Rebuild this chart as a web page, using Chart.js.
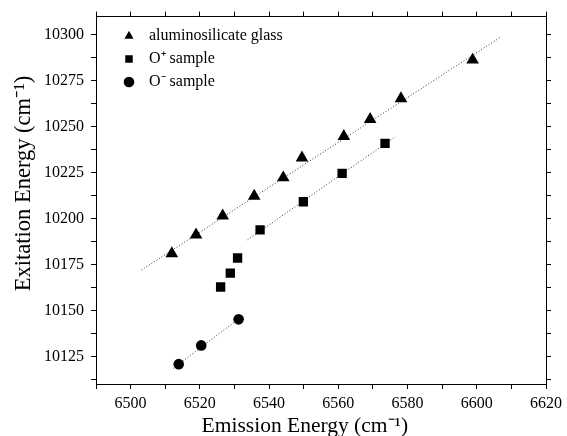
<!DOCTYPE html>
<html>
<head>
<meta charset="utf-8">
<script src="https://cdn.jsdelivr.net/npm/chart.js@4"></script>
<style>body{margin:0;background:#fff}</style>
</head>
<body>
<canvas id="energy-chart" width="567" height="436"></canvas>
<script>
// Andmed: emissioon (x) ja ergastus (y), cm-1
glassX = [6511.9, 6518.9, 6526.6, 6535.7, 6544.1, 6549.5, 6561.6, 6569.2, 6578.1, 6598.8]
glassY = [10181.0, 10191.2, 10201.5, 10212.3, 10222.3, 10233.1, 10244.8, 10254.1, 10265.4, 10286.4]
plusX = [6526.0, 6528.8, 6530.9, 6537.4, 6549.9, 6561.1, 6573.5]
plusY = [10162.8, 10170.4, 10178.6, 10193.9, 10209.2, 10224.7, 10241.0]
minusX = [6513.9, 6520.4, 6531.2]
minusY = [10120.8, 10131.0, 10145.2]

// Sobitussirgete otspunktid
glassFitX = [6503.1, 6607.1]
glassFitY = [10172.0, 10299.1]
plusFitX = [6533.8, 6576.5]
plusFitY = [10188.5, 10244.6]
minusFitX = [6512.3, 6532.1]
minusFitY = [10118.5, 10146.7]

seriesLabels = ['aluminosilicate glass', 'O\u207A sample', 'O\u207B sample']

xTicks = [6490, 6500, 6510, 6520, 6530, 6540, 6550, 6560, 6570, 6580, 6590, 6600, 6610, 6620]
yTicks = [10112.5, 10125, 10137.5, 10150, 10162.5, 10175, 10187.5, 10200, 10212.5, 10225,
          10237.5, 10250, 10262.5, 10275, 10287.5, 10300]

xTitle = 'Emission Energy (cm\u207B\u00B9)\u2002\u2002\u2002'
yTitle = '\u2002\u2002\u2002Exitation Energy (cm\u207B\u00B9)'

// Paneb x ja y massiivid punktideks kokku
toPoints = function(xs, ys){
    return xs.map(function(x, i){ return {x: x, y: ys[i]} })
}

serif = 'Liberation Serif'

markerSet = function(label, xs, ys, style, r){
    return {
        label: label,
        data: toPoints(xs, ys),
        pointStyle: style,
        pointRadius: r,
        pointHoverRadius: r,
        backgroundColor: '#000',
        borderColor: '#000',
        borderWidth: 0,
        showLine: false
    }
}
fitSet = function(xs, ys){
    return {
        label: 'fit',
        data: toPoints(xs, ys),
        showLine: true,
        pointRadius: 0,
        borderColor: '#333',
        borderWidth: 1,
        borderDash: [1, 2],
        fill: false
    }
}

axisBase = function(pos, axis, ticks, min, max, size){
    return {
        type: 'linear',
        position: pos,
        axis: axis,
        min: min,
        max: max,
        afterBuildTicks: function(s){ s.ticks = ticks.map(function(v){ return {value: v} }) },
        afterFit: function(s){ if (axis == 'x') s.height = size; else s.width = size },
        grid: {drawOnChartArea: false, tickLength: 5, tickColor: '#000', tickWidth: 1},
        border: {display: true, color: '#000', width: 1},
        ticks: {display: false}
    }
}

xAxis = axisBase('bottom', 'x', xTicks, 6490, 6620, 52)
xAxis.ticks = {
    display: true, autoSkip: false, maxRotation: 0, padding: 5, color: '#000',
    font: {family: serif, size: 16},
    callback: function(v){ return v % 20 === 0 ? String(v) : '' }
}
xAxis.title = {display: true, text: xTitle, color: '#000',
    font: {family: serif, size: 21.5, lineHeight: 1}, padding: {top: 0, bottom: -1}}

yAxis = axisBase('left', 'y', yTicks, 10110, 10310, 96)
yAxis.ticks = {
    display: true, autoSkip: false, padding: 7, color: '#000',
    font: {family: serif, size: 16},
    callback: function(v){ return v % 25 === 0 ? String(v) : '' }
}
yAxis.title = {display: true, text: yTitle, color: '#000',
    font: {family: serif, size: 22.5, lineHeight: 1}, padding: {top: 12.5, bottom: 0}}

// Nihutab legendi graafiku sees paremale ja alla
legendShift = {
    id: 'legendShift',
    afterLayout: function(chart){
        chart.legend.left += 18
        chart.legend.top += 21
    }
}

window.onload = function(){
    ctx = document.getElementById('energy-chart')
    config = {
        type: 'scatter',
        data: {
            datasets: [
                markerSet(seriesLabels[0], glassX, glassY, 'triangle', 7.3),
                markerSet(seriesLabels[1], plusX, plusY, 'rect', 6.6),
                markerSet(seriesLabels[2], minusX, minusY, 'circle', 5.3),
                fitSet(glassFitX, glassFitY),
                fitSet(plusFitX, plusFitY),
                fitSet(minusFitX, minusFitY)
            ]
        },
        options: {
            responsive: false,
            animation: false,
            layout: {padding: 0},
            plugins: {
                tooltip: {enabled: false},
                legend: {
                    position: 'chartArea',
                    align: 'start',
                    labels: {
                        usePointStyle: true,
                        boxHeight: 7.5,
                        padding: 7,
                        color: '#000',
                        font: {family: serif, size: 16},
                        filter: function(item){ return item.datasetIndex < 3 },
                        generateLabels: function(chart){
                            items = Chart.defaults.plugins.legend.labels.generateLabels(chart)
                            items.forEach(function(it){ it.text = ' ' + it.text })
                            return items
                        }
                    }
                }
            },
            scales: {
                x: xAxis,
                y: yAxis,
                x2: axisBase('top', 'x', xTicks, 6490, 6620, 13),
                y2: axisBase('right', 'y', yTicks, 10110, 10310, 18)
            }
        },
        plugins: [legendShift]
    }
    energyChart = new Chart(ctx, config)
}
</script>
</body>
</html>
